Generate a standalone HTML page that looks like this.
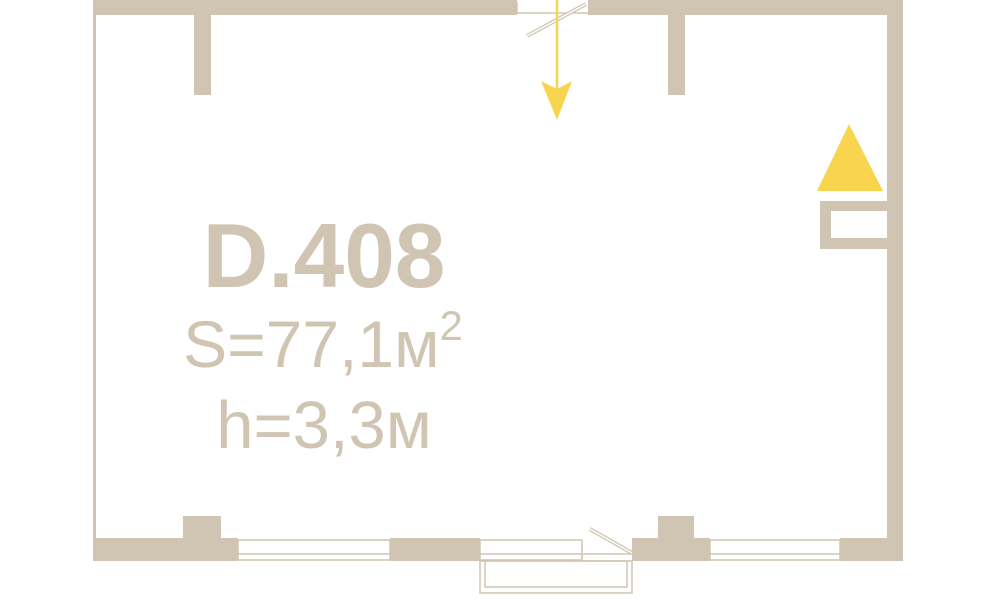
<!DOCTYPE html>
<html><head><meta charset="utf-8"><style>html,body{margin:0;padding:0;background:#fff}svg{display:block}</style></head>
<body>
<svg width="1000" height="600" viewBox="0 0 1000 600" xmlns="http://www.w3.org/2000/svg">
<g fill="#cfc5b2">
  <rect x="93" y="0" width="424" height="15"/>
  <rect x="588" y="0" width="315" height="15"/>
  <rect x="93" y="0" width="3" height="561"/>
  <rect x="887" y="0" width="16" height="561"/>
  <rect x="194" y="15" width="17" height="80"/>
  <rect x="668" y="15" width="17" height="80"/>
  <rect x="820" y="201" width="67" height="48"/>
  <rect x="93" y="538" width="145" height="23"/>
  <rect x="183" y="516" width="38" height="24"/>
  <rect x="390" y="538" width="90" height="23"/>
  <rect x="632" y="538" width="78" height="23"/>
  <rect x="658" y="516" width="36" height="24"/>
  <rect x="840" y="538" width="63" height="23"/>
</g>
<rect x="831" y="211" width="56" height="27" fill="#fff"/>
<g fill="none" stroke="#cfc5b2" stroke-width="1.5">
  <rect x="238" y="540" width="152" height="20"/>
  <line x1="238" y1="554" x2="390" y2="554"/>
  <rect x="710" y="540" width="130" height="20"/>
  <line x1="710" y1="554" x2="840" y2="554"/>
  <rect x="480" y="540" width="102" height="20"/>
  <line x1="480" y1="554" x2="632" y2="554"/>
  <line x1="582" y1="554" x2="582" y2="561"/>
  <rect x="480" y="561" width="152" height="32"/>
  <rect x="485" y="561" width="142" height="26"/>
  <line x1="517" y1="13" x2="588" y2="13"/>
  <line x1="517" y1="2" x2="517" y2="13"/>
</g>
<line x1="590" y1="529" x2="632" y2="553" stroke="#cfc5b2" stroke-width="4"/>
<line x1="527" y1="36" x2="586" y2="4" stroke="#cfc5b2" stroke-width="4"/>
<line x1="590" y1="529" x2="632" y2="553" stroke="#fff" stroke-width="1.5"/>
<line x1="527" y1="36" x2="586" y2="4" stroke="#fff" stroke-width="1.5"/>
<line x1="557" y1="0" x2="557" y2="95" stroke="#f9d44f" stroke-width="2.5"/>
<polygon points="541,81 557,89 572,81 557,120" fill="#f9d44f"/>
<polygon points="817,191 849,124 883,191" fill="#f9d44f"/>
<g fill="#cfc5b2" font-family="Liberation Sans, sans-serif" text-anchor="middle">
  <text x="324" y="287" font-size="91" font-weight="bold">D.408</text>
  <text x="323" y="367" font-size="66">S=77,1м<tspan font-size="42" dy="-27">2</tspan></text>
  <text x="324" y="448" font-size="67">h=3,3м</text>
</g>
</svg>
</body></html>
